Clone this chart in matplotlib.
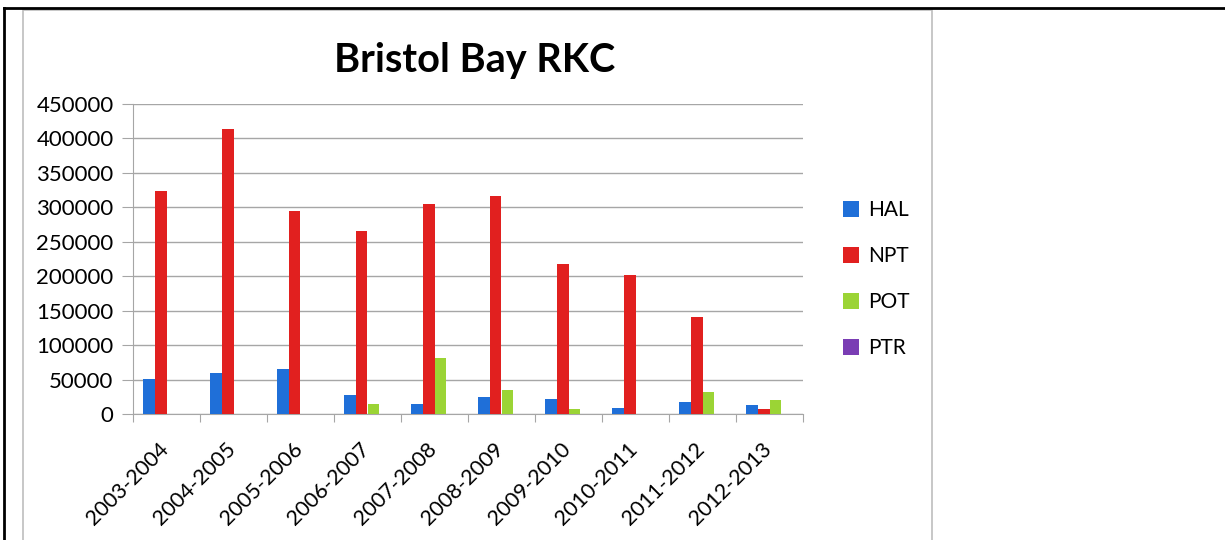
import matplotlib.pyplot as plt
from matplotlib.lines import Line2D
from matplotlib.patches import Rectangle
from matplotlib.transforms import ScaledTranslation
import numpy as np

# Data
seasons = ["2003-2004", "2004-2005", "2005-2006", "2006-2007", "2007-2008",
           "2008-2009", "2009-2010", "2010-2011", "2011-2012", "2012-2013"]
hal = [51000, 59000, 66000, 27000, 14000, 24000, 22000, 9000, 17000, 13000]
npt = [323000, 413000, 294000, 266000, 305000, 316000, 218000, 202000, 141000, 7000]
pot = [0, 0, 0, 15000, 81000, 35000, 7000, 0, 32000, 21000]
ptr = [0, 0, 0, 0, 0, 0, 0, 0, 0, 0]

series = [("HAL", hal, "#1f6fd8"), ("NPT", npt, "#e1201f"),
          ("POT", pot, "#9bd435"), ("PTR", ptr, "#7a3db4")]

plt.rcParams["font.family"] = ["Lato", "DejaVu Sans"]

fig = plt.figure(figsize=(12.25, 5.4), dpi=100)

# Table borders around the embedded chart
fig.add_artist(Line2D([4 / 1225, 1], [1 - 8 / 540, 1 - 8 / 540], color="black", lw=2))
fig.add_artist(Line2D([4 / 1225, 4 / 1225], [0, 1 - 8 / 540], color="black", lw=2))
# Chart area frame
fig.add_artist(Rectangle((23 / 1225, -0.01), (932 - 23) / 1225, 1 - 10 / 540 + 0.01,
                         fill=False, edgecolor="#bdbdbd", lw=1.2))

ax = fig.add_axes([133 / 1225, 1 - 414 / 540, (803 - 133) / 1225, (414 - 104) / 540])

x = np.arange(len(seasons))
w = 0.175
for i, (name, vals, col) in enumerate(series):
    ax.bar(x + (i - 1.5) * w, vals, width=w, color=col, label=name, zorder=3)

ax.set_xlim(-0.5, len(seasons) - 0.5)
ax.set_ylim(0, 450000)
ax.set_yticks(np.arange(0, 450001, 50000))
ax.set_yticklabels([str(v) for v in range(0, 450001, 50000)], fontsize=16)
ax.yaxis.grid(True, color="#a6a6a6", lw=1, zorder=0)

# Tick marks between categories, labels under the categories
ax.set_xticks(np.arange(-0.5, len(seasons), 1.0))
ax.set_xticklabels([])
ax.set_xticks(x, minor=True)
ax.set_xticklabels(seasons, minor=True, rotation=45, ha="right",
                   rotation_mode="anchor", fontsize=15.5)
ax.tick_params(axis="x", which="minor", length=0, pad=6)
ax.tick_params(axis="x", which="major", length=6, color="#a6a6a6")
ax.tick_params(axis="y", length=8, color="#a6a6a6", pad=6)

# nudge the slanted labels down/left like the original
shift = ScaledTranslation(-8 / 100, -17 / 100, fig.dpi_scale_trans)
for lab in ax.get_xticklabels(minor=True):
    lab.set_transform(lab.get_transform() + shift)

for s in ["top", "right"]:
    ax.spines[s].set_visible(False)
for s in ["left", "bottom"]:
    ax.spines[s].set_color("#a6a6a6")

ax.set_title("Bristol Bay RKC", fontsize=28.5, fontweight="bold", x=(475 - 133) / 670, y=1.075)

ax.legend(loc="center left", bbox_to_anchor=(824 / 1225, 1 - 279 / 540),
          bbox_transform=fig.transFigure, frameon=False, fontsize=15,
          handlelength=0.8, handleheight=0.8, handletextpad=0.4, labelspacing=1.25)

fig.savefig("out.png", dpi=100)
